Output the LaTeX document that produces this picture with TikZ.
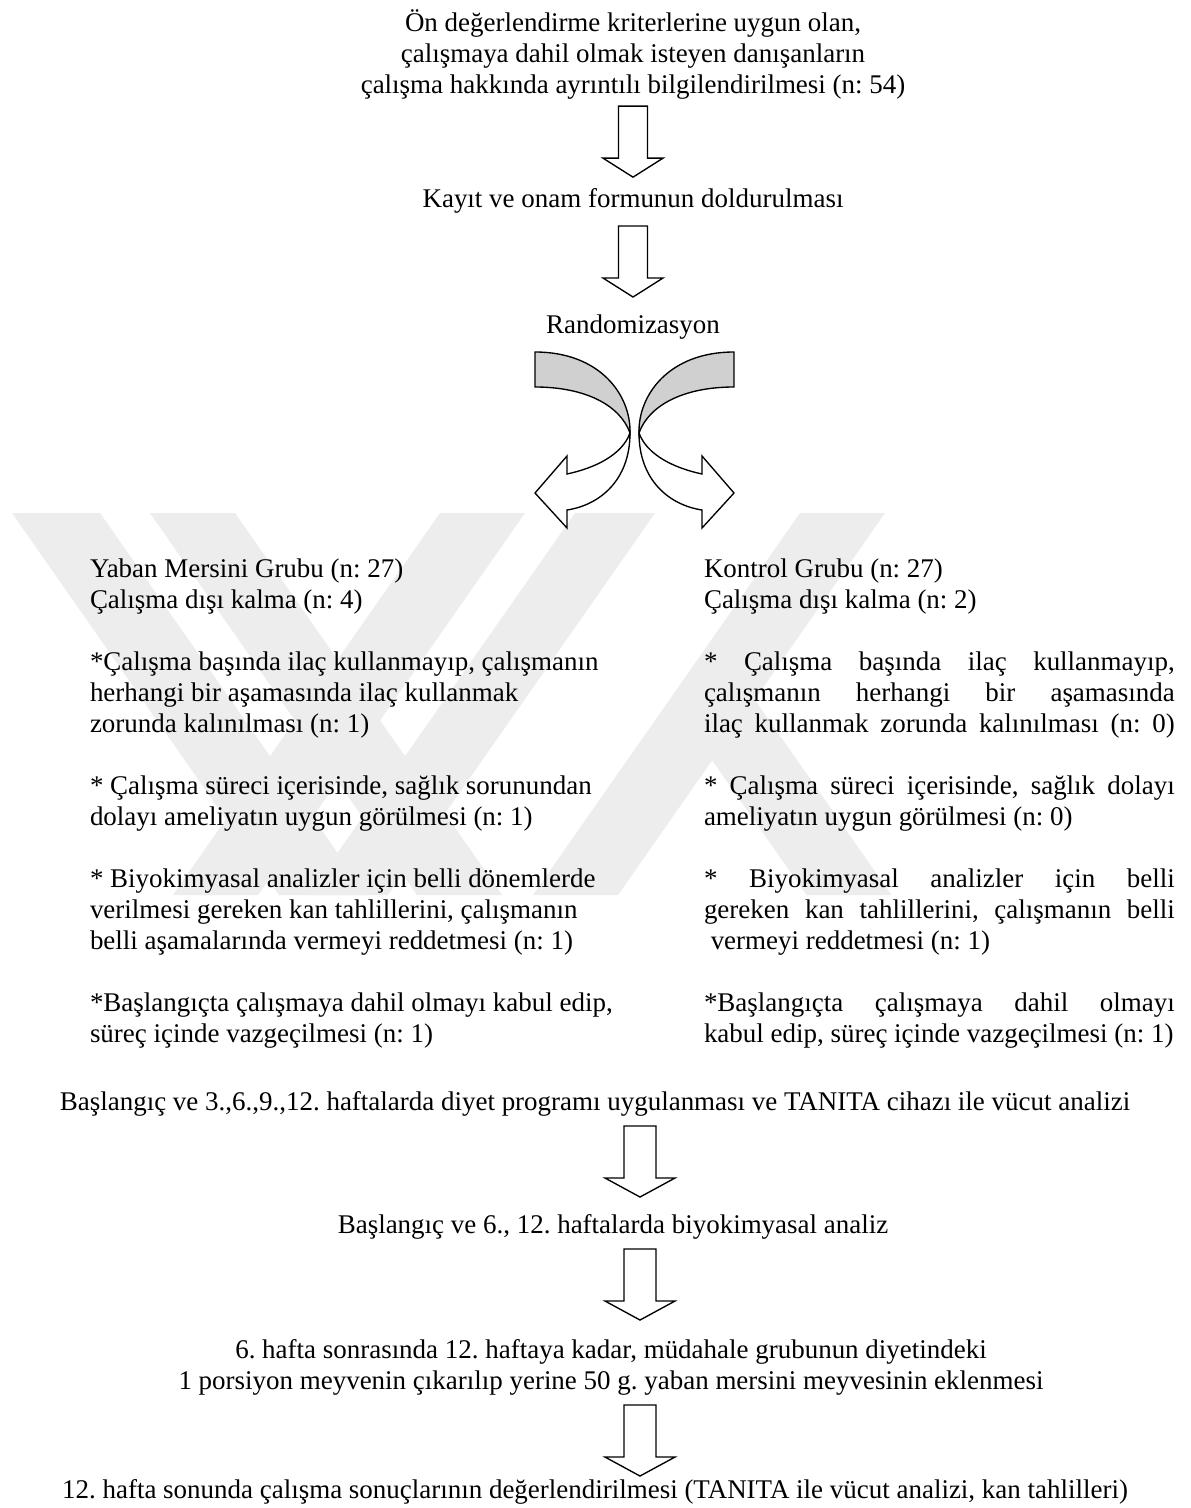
\documentclass[tikz,border=0pt]{standalone}
\usepackage{fontspec}
\setmainfont{Liberation Serif}
\usetikzlibrary{positioning,calc}
\definecolor{backgray}{RGB}{208,208,208}
\definecolor{markgray}{RGB}{237,237,237}
\newlength{\rcolw}
\setlength{\rcolw}{209.5pt}
\newcommand{\jline}[1]{\strut\makebox[\rcolw][s]{#1}}
\frenchspacing
\tikzset{
  txt/.style={font=\fontsize{12}{13.8}\selectfont\frenchspacing, inner sep=0pt, outer sep=0pt},
  midtxt/.style={txt, align=center, anchor=north},
  coltxt/.style={txt, align=left, anchor=north west},
  arrowline/.style={draw=black, line width=0.6pt, fill=white, line join=miter},
  wmark/.style={fill=markgray, draw=none},
  pics/downarrow/.style 2 args={code={
    \draw[arrowline] (-#1,0) -- (#1,0) -- (#1,52) -- (#2,52) -- (0,71) -- (-#2,52) -- (-#1,52) -- cycle;
  }}
}
\begin{document}
\begin{tikzpicture}[x=0.445pt, y=-0.445pt]
    \path[use as bounding box, fill=white] (0,0) rectangle (1190,1508);
    % watermark
    \fill[wmark] (12,513) -- (100,513) -- (367,895) -- (279,895) -- cycle;
    \fill[wmark] (150,513) -- (235,513) -- (502,895) -- (417,895) -- cycle;
    \fill[wmark] (440,513) -- (525,513) -- (258,895) -- (173,895) -- cycle;
    \fill[wmark] (575,513) -- (655,513) -- (388,895) -- (308,895) -- cycle;
    \fill[wmark] (800,513) -- (885,513) -- (618,895) -- (533,895) -- cycle;
    \fill[wmark] (669.5,699.4) -- (754.5,699.4) -- (891.5,895) -- (806.5,895) -- cycle;

    \node[midtxt] (ondeg) at (633,10) {\strut Ön değerlendirme kriterlerine uygun olan,\\
        \strut çalışmaya dahil olmak isteyen danışanların\\
        \strut çalışma hakkında ayrıntılı bilgilendirilmesi (n: 54)};
    \node[midtxt] (kayit) at (633,186) {\strut Kayıt ve onam formunun doldurulması};
    \node[midtxt] (random) at (633,312) {\strut Randomizasyon};

    \node[coltxt] (yaban) at (90,556) {\strut Yaban Mersini Grubu (n: 27)\\
        \strut Çalışma dışı kalma (n: 4)};
    \node[coltxt, below right=13.8pt and 0pt of yaban.south west] (yilac) {\strut *Çalışma başında ilaç kullanmayıp, çalışmanın\\
        \strut herhangi bir aşamasında ilaç kullanmak\\
        \strut zorunda kalınılması (n: 1)};
    \node[coltxt, below right=13.8pt and 0pt of yilac.south west] (ysurec) {\strut * Çalışma süreci içerisinde, sağlık sorunundan\\
        \strut dolayı ameliyatın uygun görülmesi (n: 1)};
    \node[coltxt, below right=13.8pt and 0pt of ysurec.south west] (ybiyo) {\strut * Biyokimyasal analizler için belli dönemlerde\\
        \strut verilmesi gereken kan tahlillerini, çalışmanın\\
        \strut belli aşamalarında vermeyi reddetmesi (n: 1)};
    \node[coltxt, below right=13.8pt and 0pt of ybiyo.south west] (ybas) {\strut *Başlangıçta çalışmaya dahil olmayı kabul edip,\\
        \strut süreç içinde vazgeçilmesi (n: 1)};

    \node[coltxt] (kontrol) at (704,556) {\strut Kontrol Grubu (n: 27)\\
        \strut Çalışma dışı kalma (n: 2)};
    \node[coltxt, below right=13.8pt and 0pt of kontrol.south west] (kilac) {\jline{* Çalışma başında ilaç kullanmayıp,}\\
        \jline{çalışmanın herhangi bir aşamasında}\\
        \jline{ilaç kullanmak zorunda kalınılması (n: 0)}};
    \node[coltxt, below right=13.8pt and 0pt of kilac.south west] (ksurec) {\jline{* Çalışma süreci içerisinde, sağlık dolayı}\\
        \strut ameliyatın uygun görülmesi (n: 0)};
    \node[coltxt, below right=13.8pt and 0pt of ksurec.south west] (kbiyo) {\jline{* Biyokimyasal analizler için belli}\\
        \jline{gereken kan tahlillerini, çalışmanın belli}\\
        \strut\ vermeyi reddetmesi (n: 1)};
    \node[coltxt, below right=13.8pt and 0pt of kbiyo.south west] (kbas) {\jline{*Başlangıçta çalışmaya dahil olmayı}\\
        \strut kabul edip, süreç içinde vazgeçilmesi (n: 1)};

    \node[midtxt] (diyet) at (595,1089) {\strut Başlangıç ve 3.,6.,9.,12. haftalarda diyet programı uygulanması ve TANITA cihazı ile vücut analizi};
    \node[midtxt] (biyo) at (613,1212) {\strut Başlangıç ve 6., 12. haftalarda biyokimyasal analiz};
    \node[midtxt] (meyve) at (611,1337) {\strut 6. hafta sonrasında 12. haftaya kadar, müdahale grubunun diyetindeki\\
        \strut 1 porsiyon meyvenin çıkarılıp yerine 50 g. yaban mersini meyvesinin eklenmesi};
    \node[midtxt] (sonuc) at (595,1477) {\strut 12. hafta sonunda çalışma sonuçlarının değerlendirilmesi (TANITA ile vücut analizi, kan tahlilleri)};

    \pic at ($(ondeg.south)+(0,3)$) {downarrow={14.5}{30}};
    \pic at ($(kayit.south)+(0,9)$) {downarrow={14.5}{30}};
    \pic at ($(640,0 |- diyet.south)+(0,6)$) {downarrow={16}{35}};
    \pic at ($(640,0 |- biyo.south)+(0,6)$) {downarrow={16}{35}};
    \pic at ($(640,0 |- meyve.south)+(0,6)$) {downarrow={16}{35}};

    % curved arrows below randomizasyon
    \filldraw[arrowline, fill=backgray] (535,352) .. controls (600,352) and (631,395) .. (630,433)
        .. controls (620,405) and (585,387) .. (535,387) -- cycle;
    \filldraw[arrowline] (630,433) .. controls (630,480) and (600,505) .. (567,510) -- (567,528) -- (535,493)
        -- (567,456) -- (567,474) .. controls (595,468) and (622,455) .. (630,433) -- cycle;
    \begin{scope}[shift={(1269,0)}, xscale=-1]
        \filldraw[arrowline, fill=backgray] (535,352) .. controls (600,352) and (631,395) .. (630,433)
            .. controls (620,405) and (585,387) .. (535,387) -- cycle;
        \filldraw[arrowline] (630,433) .. controls (630,480) and (600,505) .. (567,510) -- (567,528) -- (535,493)
            -- (567,456) -- (567,474) .. controls (595,468) and (622,455) .. (630,433) -- cycle;
    \end{scope}
\end{tikzpicture}
\end{document}
